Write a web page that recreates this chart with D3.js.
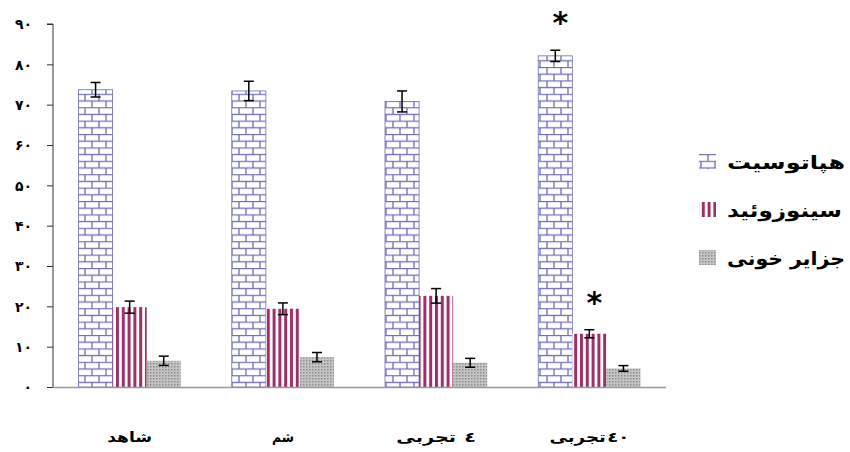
<!DOCTYPE html>
<html><head><meta charset="utf-8">
<script src="https://cdn.jsdelivr.net/npm/d3@7"></script>
<style>
body{margin:0;background:#fff;}
text{font-family:"DejaVu Sans",sans-serif;font-weight:bold;}
</style></head>
<body><svg id="c" width="850" height="452"></svg>
<script>
const categories = ["شاهد", "شم", "تجربی ٤", "تجربی ٤٠"];
const seriesNames = ["هپاتوسیت", "سینوزوئید", "جزایر خونی"];
const hepatocyte = [73.7, 73.4, 70.8, 82.1];
const hepatocyteErr = [1.8, 2.4, 2.6, 1.4];
const sinusoid = [19.8, 19.4, 22.6, 13.2];
const sinusoidErr = [1.5, 1.45, 1.8, 1.0];
const bloodIslands = [6.5, 7.4, 6.0, 4.6];
const bloodIslandsErr = [1.15, 1.15, 1.1, 0.7];
const significant = [[false,false,false,true],[false,false,false,true],[false,false,false,false]];
const yTicks = [0,10,20,30,40,50,60,70,80,90];
const yTickLabels = ["۰","۱۰","۲۰","۳۰","۴۰","۵۰","۶۰","۷۰","۸۰","۹۰"];

const values = [hepatocyte, sinusoid, bloodIslands];
const errors = [hepatocyteErr, sinusoidErr, bloodIslandsErr];
const patterns = ["pBrick","pStripe","pDots"];

const svg = d3.select("#c");
const defs = svg.append("defs");
const bc = "#6e6eb6";
const pb = defs.append("pattern").attr("id","pBrick").attr("patternUnits","userSpaceOnUse")
  .attr("width",14).attr("height",13.4);
pb.append("rect").attr("width",14).attr("height",13.4).attr("fill","#fff");
pb.append("line").attr("x1",0).attr("x2",14).attr("y1",0.5).attr("y2",0.5).attr("stroke",bc).attr("stroke-width",1.3);
pb.append("line").attr("x1",0).attr("x2",14).attr("y1",7.2).attr("y2",7.2).attr("stroke",bc).attr("stroke-width",1.3);
pb.append("line").attr("x1",1).attr("x2",1).attr("y1",0).attr("y2",7).attr("stroke",bc).attr("stroke-width",1.3);
pb.append("line").attr("x1",8).attr("x2",8).attr("y1",7).attr("y2",13.4).attr("stroke",bc).attr("stroke-width",1.3);
const ps = defs.append("pattern").attr("id","pStripe").attr("patternUnits","userSpaceOnUse")
  .attr("width",5.8).attr("height",10);
ps.append("rect").attr("width",5.8).attr("height",10).attr("fill","#fff");
ps.append("rect").attr("width",3).attr("height",10).attr("fill","#9c3068");
const pd = defs.append("pattern").attr("id","pDots").attr("patternUnits","userSpaceOnUse")
  .attr("width",3).attr("height",3);
pd.append("rect").attr("width",3).attr("height",3).attr("fill","#c4c4c4");
pd.append("rect").attr("width",1.5).attr("height",1.5).attr("fill","#8e8e8e");

const x0 = 53, x1 = 666, yTop = 24, yBot = 387;
const y = d3.scaleLinear().domain([0,90]).range([yBot, yTop]);
const xb = d3.scaleBand().domain(categories).range([x0, x1]).paddingInner(0.333).paddingOuter(0.1667);
const xs = d3.scaleBand().domain([0,1,2]).range([0, xb.bandwidth()]);

// y axis
const yAxis = d3.axisLeft(y).tickValues(yTicks).tickSize(6).tickPadding(15)
  .tickFormat((d,i)=>yTickLabels[i]);
const ga = svg.append("g").attr("transform",`translate(${x0},0)`).call(yAxis);
ga.select(".domain").attr("stroke","#333").attr("d",`M-6,${yTop}H0V${yBot}`);
ga.selectAll(".tick line").attr("stroke","#333");
ga.selectAll(".tick text").attr("font-size",14).attr("fill","#000").attr("dy","0.35em")
  .style("font-family","'DejaVu Sans',sans-serif").style("font-weight","900")
  .attr("letter-spacing",3);

// bars
seriesNames.forEach((s, si) => {
  svg.append("g").selectAll("rect").data(values[si]).join("rect")
    .attr("x",(d,i)=>xb(categories[i]) + xs(si))
    .attr("y",d=>y(d))
    .attr("width",xs.bandwidth())
    .attr("height",d=>y(0)-y(d))
    .attr("fill",`url(#${patterns[si]})`)
    .attr("stroke", si===0 ? bc : "none").attr("stroke-width",0.8);
});
svg.append("line").attr("x1",x0).attr("x2",x1).attr("y1",yBot+0.5).attr("y2",yBot+0.5)
  .attr("stroke","#999").attr("stroke-width",1.5);

// error bars + significance
seriesNames.forEach((s, si) => {
  values[si].forEach((v, i) => {
    const cx = xb(categories[i]) + xs(si) + xs.bandwidth()/2;
    const e = errors[si][i];
    const g = svg.append("g").attr("stroke","#000").attr("stroke-width",1.5);
    g.append("line").attr("x1",cx).attr("x2",cx).attr("y1",y(v+e)).attr("y2",y(v-e));
    g.append("line").attr("x1",cx-5).attr("x2",cx+5).attr("y1",y(v+e)).attr("y2",y(v+e));
    g.append("line").attr("x1",cx-5).attr("x2",cx+5).attr("y1",y(v-e)).attr("y2",y(v-e));
    if (significant[si][i]) {
      svg.append("text").attr("x",cx+5).attr("y",y(v+e)-17).attr("text-anchor","middle")
        .attr("font-size",30).attr("fill","#000").style("font-weight","900").text("*");
    }
  });
});

// x labels: word on the left, number on its right (as drawn in the reference)
const xlw = [45, 22, 80, 80];
categories.forEach((c, i) => {
  const parts = c.split(" ");
  const g = svg.append("g").attr("class","xlabel");
  const w = g.append("text").attr("text-anchor","middle").attr("font-size",14).attr("fill","#000").text(parts[0]);
  const ww = w.node().getComputedTextLength();
  let nw = 0, n = null;
  if (parts[1]) {
    n = g.append("text").attr("text-anchor","middle").attr("font-size",14).attr("fill","#000").text(parts[1]);
    nw = n.node().getComputedTextLength();
  }
  const gap = n ? (i === 2 ? 6 : 1) : 0;
  const total = ww + gap + nw;
  w.attr("x", -total/2 + ww/2);
  if (n) n.attr("x", total/2 - nw/2);
  g.attr("transform", `translate(${xb(c)+xb.bandwidth()/2},442) scale(${xlw[i]/total},1)`);
});

// legend
const legW = [118, 115, 118];
const lg = svg.append("g");
seriesNames.forEach((s, si) => {
  const ly = 162 + si*48;
  lg.append("rect").attr("x",699).attr("y",ly-8).attr("width",17).attr("height",15)
    .attr("fill",`url(#${patterns[si]})`);
  lg.append("text").attr("x",727).attr("y",ly+7).attr("font-size",19).attr("fill","#000")
    .style("font-weight","900")
    .attr("textLength",legW[si]).attr("lengthAdjust","spacingAndGlyphs").text(s);
});
</script></body></html>
